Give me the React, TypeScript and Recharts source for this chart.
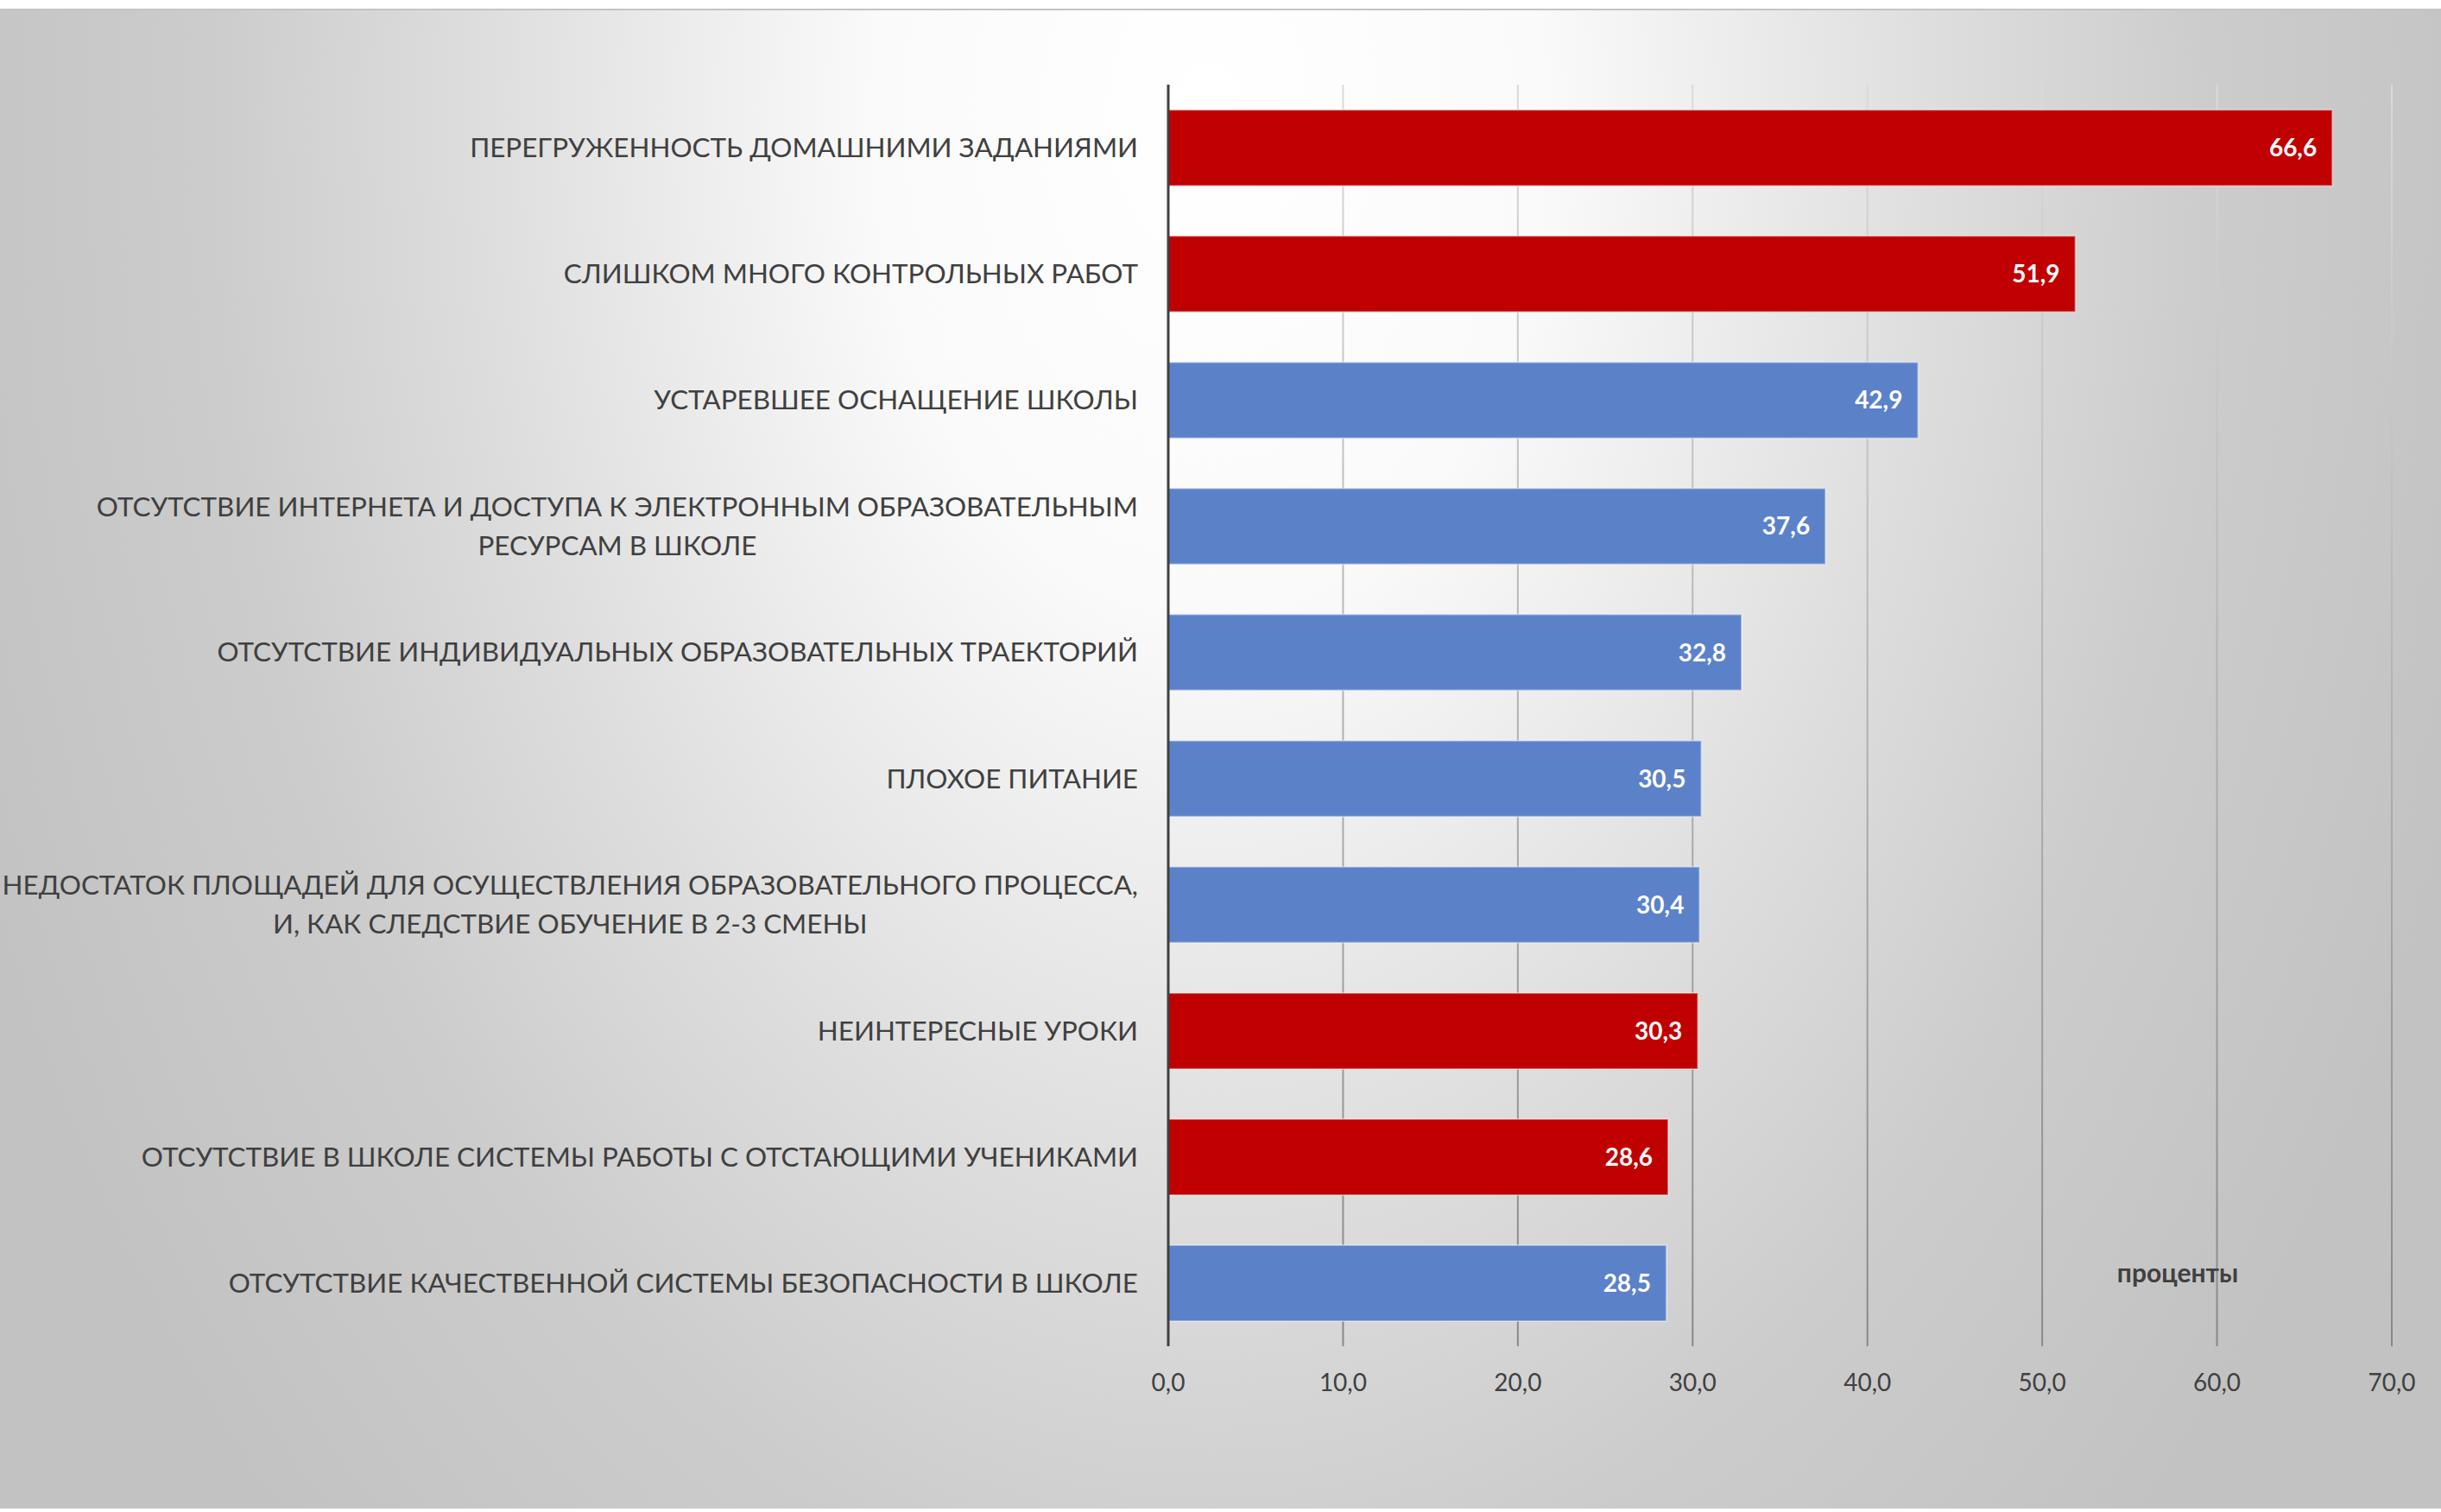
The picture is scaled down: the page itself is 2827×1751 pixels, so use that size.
import { BarChart, Bar, XAxis, YAxis, CartesianGrid, Cell, LabelList } from 'recharts';

const categories = [
  'ПЕРЕГРУЖЕННОСТЬ ДОМАШНИМИ ЗАДАНИЯМИ',
  'СЛИШКОМ МНОГО КОНТРОЛЬНЫХ РАБОТ',
  'УСТАРЕВШЕЕ ОСНАЩЕНИЕ ШКОЛЫ',
  'ОТСУТСТВИЕ ИНТЕРНЕТА И ДОСТУПА К ЭЛЕКТРОННЫМ ОБРАЗОВАТЕЛЬНЫМ\nРЕСУРСАМ В ШКОЛЕ',
  'ОТСУТСТВИЕ ИНДИВИДУАЛЬНЫХ ОБРАЗОВАТЕЛЬНЫХ ТРАЕКТОРИЙ',
  'ПЛОХОЕ ПИТАНИЕ',
  'НЕДОСТАТОК ПЛОЩАДЕЙ ДЛЯ ОСУЩЕСТВЛЕНИЯ ОБРАЗОВАТЕЛЬНОГО ПРОЦЕССА,\nИ, КАК СЛЕДСТВИЕ ОБУЧЕНИЕ В 2-3 СМЕНЫ',
  'НЕИНТЕРЕСНЫЕ УРОКИ',
  'ОТСУТСТВИЕ В ШКОЛЕ СИСТЕМЫ РАБОТЫ С ОТСТАЮЩИМИ УЧЕНИКАМИ',
  'ОТСУТСТВИЕ КАЧЕСТВЕННОЙ СИСТЕМЫ БЕЗОПАСНОСТИ В ШКОЛЕ',
];

const values = [66.6, 51.9, 42.9, 37.6, 32.8, 30.5, 30.4, 30.3, 28.6, 28.5];

// red = highlighted answers, the rest are blue
const highlighted = [true, true, false, false, false, false, false, true, true, false];

const xTicks = [0, 10, 20, 30, 40, 50, 60, 70];

const RED = '#C00000';
const BLUE = '#5B82C9';
const TEXT = '#404040';
const FONT = 'Lato, "Open Sans", sans-serif';

const data = categories.map((name, i) => ({ name, value: values[i], hi: highlighted[i] }));

const fmt = (v: number) => v.toFixed(1).replace('.', ',');

let ctx: CanvasRenderingContext2D | null = null;
function textWidth(s: string, size: number) {
  if (!ctx) ctx = document.createElement('canvas').getContext('2d');
  if (!ctx) return s.length * size * 0.6;
  ctx.font = `${size}px Lato`;
  return ctx.measureText(s).width;
}

const LABEL_SIZE = 31.4;
const LINE_H = 45;

function CategoryTick(props: any) {
  const { x, y, payload } = props;
  const lines: string[] = String(payload.value).split('\n');
  const widths = lines.map((l) => textWidth(l, LABEL_SIZE));
  const maxW = Math.max(...widths);
  const cx = x - maxW / 2;
  const startY = y - ((lines.length - 1) * LINE_H) / 2;
  return (
    <g>
      {lines.map((l, i) => (
        <text
          key={i}
          x={lines.length > 1 ? cx : x}
          y={startY + i * LINE_H}
          dy="0.35em"
          textAnchor={lines.length > 1 ? 'middle' : 'end'}
          fill={TEXT}
          fontSize={LABEL_SIZE}
          fontFamily={FONT}
        >
          {l}
        </text>
      ))}
    </g>
  );
}

export default function App() {
  return (
    <div
      style={{
        position: 'absolute',
        left: 0,
        top: 0,
        width: 2827,
        height: 1751,
        overflow: 'hidden',
        background: '#ffffff',
        fontFamily: FONT,
      }}
    >
      <div
        style={{
          position: 'absolute',
          left: 0,
          top: 10,
          width: 2827,
          height: 1735,
          borderTop: '2px solid #c4c4c4',
          background:
            'radial-gradient(ellipse 1550px 2300px at 1400px 120px, #ffffff 0%, #fafafa 25%, #dddddd 55%, #cccccc 75%, #c2c2c2 100%)',
        }}
      />
      <div style={{ position: 'absolute', left: 0, top: 0 }}>
        <BarChart
          width={2827}
          height={1751}
          data={data}
          layout="vertical"
          barCategoryGap="20%"
          margin={{ top: 98, right: 57, bottom: 112, left: 0 }}
        >
          <defs>
            <linearGradient id="gridGrad" gradientUnits="userSpaceOnUse" x1="0" y1="98" x2="0" y2="1559">
              <stop offset="0%" stopColor="#dadada" />
              <stop offset="100%" stopColor="#888888" />
            </linearGradient>
          </defs>
          <CartesianGrid horizontal={false} stroke="url(#gridGrad)" strokeWidth={2} />
          <XAxis
            type="number"
            domain={[0, 70]}
            ticks={xTicks}
            tickFormatter={fmt}
            axisLine={false}
            tickLine={false}
            tickSize={0}
            tickMargin={32}
            height={80}
            tick={{ fontSize: 28, fill: TEXT, fontFamily: FONT }}
          />
          <YAxis
            type="category"
            dataKey="name"
            width={1353}
            axisLine={{ stroke: TEXT, strokeWidth: 3 }}
            tickLine={false}
            tickSize={0}
            tickMargin={35}
            interval={0}
            tick={<CategoryTick />}
          />
          <Bar dataKey="value" isAnimationActive={false} stroke="rgba(255,255,255,0.4)" strokeWidth={2}>
            {data.map((d, i) => (
              <Cell key={i} fill={d.hi ? RED : BLUE} />
            ))}
            <LabelList
              dataKey="value"
              position="insideRight"
              offset={18}
              formatter={(v: any) => fmt(Number(v))}
              fill="#ffffff"
              fontSize={28}
              fontWeight="bold"
              fontFamily={FONT}
            />
          </Bar>
        </BarChart>
      </div>
      <div
        style={{
          position: 'absolute',
          left: 2522,
          top: 1473,
          transform: 'translate(-50%, -50%)',
          fontSize: 30,
          fontWeight: 'bold',
          color: TEXT,
          whiteSpace: 'nowrap',
        }}
      >
        проценты
      </div>
    </div>
  );
}
